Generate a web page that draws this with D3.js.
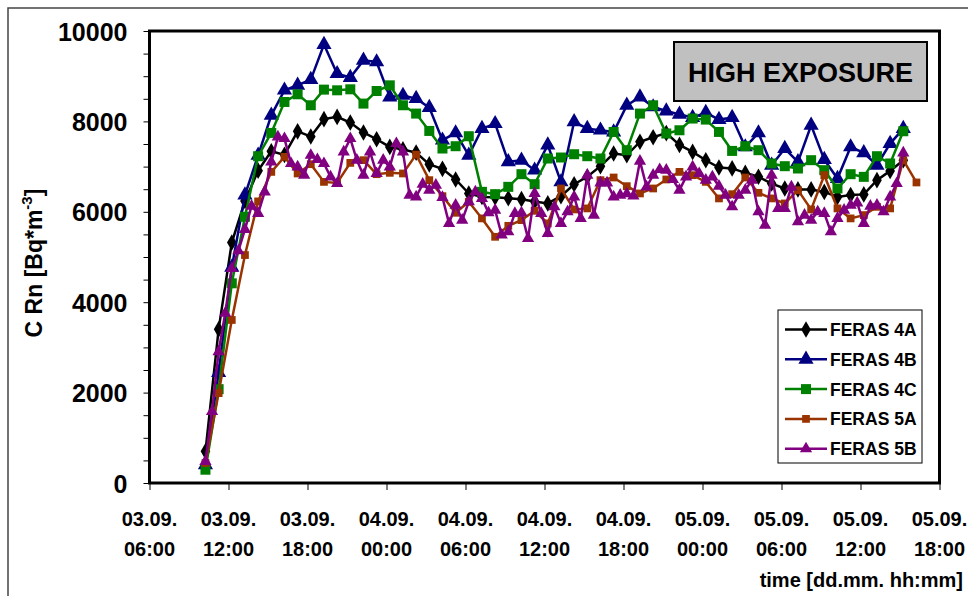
<!DOCTYPE html>
<html>
<head>
<meta charset="utf-8">
<script src="https://cdn.jsdelivr.net/npm/d3@7"></script>
<style>
  body { margin: 0; background: #fff; }
  text { font-family: "Liberation Sans", Arial, sans-serif; font-weight: bold; }
</style>
</head>
<body>
<script>
// data: hourly readings from 03.09. 10:15 (5B every 30 min)
const startTime = "03.09. 10:15";

const feras4A = [700, 3400, 5320, 6240, 6910, 7340, 7260, 7780, 7665, 8050, 8100, 7975, 7755, 7605, 7435, 7380, 7310, 7050, 6950, 6715,
  6405, 6330, 6320, 6300, 6280, 6230, 6185, 6345, 6610, 6775, 7010, 7290, 7250, 7550, 7650, 7740, 7480, 7325, 7140, 6980,
  6960, 6860, 6775, 6625, 6515, 6495, 6495, 6440, 6330, 6370, 6385, 6700, 6905, 7140];

const feras4B = [400, 2440, 4770, 6370, 7250, 8135, 8690, 8800, 8925, 9700, 9055, 8970, 9350, 9315, 8540, 8575, 8505, 8305, 7585, 7745,
  7250, 7840, 7950, 7105, 7140, 6920, 7475, 6660, 7990, 7840, 7805, 7765, 8355, 8540, 8320, 8230, 8155, 8085, 8195, 8040,
  8085, 7435, 7745, 7030, 7400, 7105, 7915, 7155, 6735, 7435, 7305, 7030, 7510, 7840];

const feras4C = [294, 2076, 4418, 5890, 7230, 7745, 8430, 8600, 8357, 8703, 8688, 8710, 8394, 8673, 8798, 8357, 8173, 7789, 7400, 7451,
  7672, 6442, 6390, 6552, 6832, 6611, 7179, 7201, 7274, 7230, 7179, 7767, 7363, 8173, 8357, 7732, 7804, 8063, 8040, 7767,
  7347, 7451, 7363, 7069, 7009, 6958, 7142, 6921, 6516, 6832, 6773, 7230, 7069, 7782];

const feras5A = [442, 1988, 3607, 5043, 6230, 6883, 7215, 6848, 7053, 6662, 6640, 7082, 7142, 6832, 6862, 6848, 7265, 6700, 6346, 5978,
  6221, 5854, 5447, 5690, 5816, 6022, 5743, 6516, 6052, 6075, 6700, 6759, 6567, 6406, 6516, 6715, 6883, 6810, 6662, 6296,
  6390, 6759, 6420, 6296, 6185, 6479, 6052, 6810, 6075, 5854, 5927, 6110, 6075, 7142, 6649];

const feras5B = [478, 1582, 2907, 3755, 4749, 5138, 5611, 6126, 5964, 6441, 7104, 7656, 7620, 7068, 6994, 6810, 7252, 7157, 7068, 6773,
  6627, 7325, 7620, 7142, 6810, 7325, 6848, 7142, 6994, 7510, 7325, 6368, 6331, 6611, 6479, 6589, 6318, 5743, 6147, 5816,
  6221, 6442, 6296, 5978, 6037, 5485, 5558, 5964, 5978, 5412, 6406, 5964, 5522, 6110, 5743, 6000, 6331, 5854, 6810, 5927,
  6640, 6640, 6331, 6368, 6400, 6350, 7120, 6552, 6810, 6936, 6921, 6715, 6479, 6773, 6994, 6848, 6700, 6773, 6567, 6368,
  6110, 6368, 6479, 6700, 6000, 5706, 6810, 6075, 6075, 6552, 5780, 5927, 5816, 6000, 5964, 5558, 5854, 6037, 6147, 6198,
  5743, 6126, 6147, 6000, 6331, 6627, 7303];

const yTicks = [0, 2000, 4000, 6000, 8000, 10000];

// SVG size
const width = 968;
const height = 596;

const svg = d3.select("body")
    .append("svg")
    .attr("width", width)
    .attr("height", height);

// outer frame
svg.append("rect")
    .attr("x", 8).attr("y", 8)
    .attr("width", 1000).attr("height", 1000)
    .attr("fill", "none")
    .attr("stroke", "#444")
    .attr("stroke-width", 1.5);

const parse = d3.utcParse("%d.%m. %H:%M");
const t0 = parse(startTime);

// scales
const x = d3.scaleUtc()
    .domain([parse("03.09. 06:00"), parse("05.09. 18:00")])
    .range([149.5, 939.5]);

const y = d3.scaleLinear()
    .domain([0, 10000])
    .range([483, 31]);

const series = [
    { name: "FERAS 4A", values: feras4A, step: 60, color: "#000000", symbol: d3.symbolDiamond, size: 80 },
    { name: "FERAS 4B", values: feras4B, step: 60, color: "#000080", symbol: d3.symbolTriangle, size: 100 },
    { name: "FERAS 4C", values: feras4C, step: 60, color: "#008000", symbol: d3.symbolSquare, size: 100 },
    { name: "FERAS 5A", values: feras5A, step: 60, color: "#993300", symbol: d3.symbolSquare, size: 60 },
    { name: "FERAS 5B", values: feras5B, step: 30, color: "#800080", symbol: d3.symbolTriangle, size: 65 }
];

// Y axis (minor ticks every 500)
svg.append("g")
    .attr("transform", "translate(149.5,0)")
    .call(d3.axisLeft(y).tickValues(d3.range(0, 10001, 500)).tickSize(6).tickFormat(""))
    .call(g => g.select(".domain").remove())
    .call(g => g.selectAll("line").attr("stroke", "#000").attr("stroke-width", 1));

svg.append("g")
    .attr("transform", "translate(149.5,0)")
    .call(d3.axisLeft(y).tickValues(yTicks).tickSize(0).tickPadding(22).tickFormat(d3.format("d")))
    .call(g => g.select(".domain").remove())
    .call(g => g.selectAll("text")
        .attr("fill", "#000")
        .style("font-size", "25px")
        .attr("dy", "0.36em"));

// X axis
const xTicks = d3.utcHour.every(6).range(parse("03.09. 06:00"), d3.utcHour.offset(parse("05.09. 18:00"), 1));

svg.append("g")
    .attr("transform", "translate(0,483)")
    .call(d3.axisBottom(x).tickValues(xTicks).tickSize(7).tickFormat(""))
    .call(g => g.select(".domain").remove())
    .call(g => g.selectAll("line").attr("stroke", "#000").attr("stroke-width", 1));

const lbl = svg.append("g").selectAll("text")
    .data(xTicks)
    .enter()
    .append("text")
    .attr("x", d => x(d))
    .attr("text-anchor", "middle")
    .style("font-size", "20px");
lbl.append("tspan").attr("x", d => x(d)).attr("y", 526).text(d3.utcFormat("%d.%m."));
lbl.append("tspan").attr("x", d => x(d)).attr("y", 556).text(d3.utcFormat("%H:%M"));

// axis titles
svg.append("text")
    .attr("x", 963).attr("y", 587)
    .attr("text-anchor", "end")
    .style("font-size", "20px")
    .text("time [dd.mm. hh:mm]");

const yt = svg.append("text")
    .attr("transform", "translate(42,263) rotate(-90)")
    .attr("text-anchor", "middle")
    .style("font-size", "23px");
yt.append("tspan").text("C Rn [Bq*m");
yt.append("tspan").attr("dy", -10).style("font-size", "15px").text("-3");
yt.append("tspan").attr("dy", 10).text("]");

// lines + markers
const line = d3.line().x(d => x(d.t)).y(d => y(d.v));

series.forEach(s => {
    const pts = s.values.map((v, i) => ({ t: d3.utcMinute.offset(t0, i * s.step), v: v }));
    svg.append("path")
        .datum(pts)
        .attr("fill", "none")
        .attr("stroke", s.color)
        .attr("stroke-width", 2.5)
        .attr("d", line);
    svg.append("g").selectAll("path")
        .data(pts)
        .enter()
        .append("path")
        .attr("transform", d => `translate(${x(d.t)},${y(d.v)})`)
        .attr("d", d3.symbol().type(s.symbol).size(s.size))
        .attr("fill", s.color);
});

// plot frame
svg.append("rect")
    .attr("x", 149.5).attr("y", 31)
    .attr("width", 790).attr("height", 452)
    .attr("fill", "none")
    .attr("stroke", "#000")
    .attr("stroke-width", 3);

// title box
svg.append("rect")
    .attr("x", 674).attr("y", 42)
    .attr("width", 253).attr("height", 59)
    .attr("fill", "#c0c0c0")
    .attr("stroke", "#000")
    .attr("stroke-width", 2);
svg.append("text")
    .attr("x", 800.5).attr("y", 82)
    .attr("text-anchor", "middle")
    .style("font-size", "27px")
    .text("HIGH EXPOSURE");

// legend
svg.append("rect")
    .attr("x", 778).attr("y", 310)
    .attr("width", 144).attr("height", 153)
    .attr("fill", "#fff")
    .attr("stroke", "#000")
    .attr("stroke-width", 1);

const leg = svg.append("g").selectAll("g")
    .data(series)
    .enter()
    .append("g")
    .attr("transform", (d, i) => `translate(0,${329.5 + i * 29.8})`);
leg.append("line")
    .attr("x1", 785).attr("x2", 827)
    .attr("stroke", d => d.color)
    .attr("stroke-width", 2.5);
leg.append("path")
    .attr("transform", "translate(806,0)")
    .attr("d", d => d3.symbol().type(d.symbol).size(d.size)())
    .attr("fill", d => d.color);
leg.append("text")
    .attr("x", 830).attr("y", 6.5)
    .style("font-size", "17.5px")
    .text(d => d.name);
</script>
</body>
</html>
